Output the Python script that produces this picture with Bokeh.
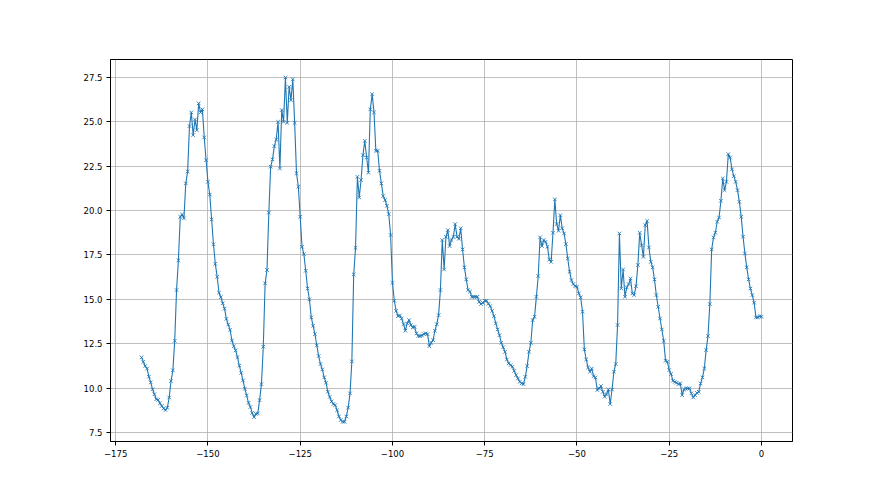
from bokeh.plotting import figure
from bokeh.models import Range1d, FixedTicker
from bokeh.embed import file_html
from bokeh.resources import INLINE
import numpy as np

# Temperature readings, one every half hour, grouped per 24 h block
day1 = [11.73, 11.48, 11.24, 11.10, 10.64, 10.32, 9.93, 9.65,
        9.37, 9.33, 9.14, 8.99, 8.85, 8.76, 8.89, 9.47,
        10.40, 11.00, 12.66, 15.52, 17.20, 19.65, 19.78, 19.56,
        21.53, 22.20, 24.76, 25.53, 24.25, 25.13, 24.53, 26.04,
        25.53, 25.70, 24.12, 22.84, 21.62, 20.90, 19.50, 18.10,
        17.00, 16.27, 15.37, 15.12, 14.78, 14.47, 13.90, 13.58]
day2 = [13.28, 12.68, 12.36, 12.12, 11.74, 11.27, 10.86, 10.43,
        9.96, 9.58, 9.17, 8.93, 8.60, 8.36, 8.55, 8.57,
        9.32, 10.22, 12.33, 15.90, 16.65, 19.88, 22.47, 22.88,
        23.63, 24.00, 25.00, 22.37, 25.66, 25.00, 27.50, 24.94,
        26.97, 26.22, 27.39, 24.94, 22.10, 21.34, 19.65, 17.96,
        17.55, 16.61, 15.61, 15.00, 13.98, 13.51, 13.04, 12.40]
day3 = [11.80, 11.35, 11.05, 10.60, 10.30, 9.79, 9.50, 9.25,
        9.10, 9.04, 8.75, 8.40, 8.20, 8.10, 8.10, 8.40,
        8.90, 9.70, 11.50, 16.40, 17.90, 21.90, 20.74, 21.72,
        23.12, 23.93, 22.99, 22.13, 25.70, 26.56, 25.53, 23.37,
        23.37, 22.24, 21.53, 20.81, 20.59, 20.27, 19.80, 18.62,
        15.93, 14.92, 14.35, 14.05, 14.09, 13.92, 13.60, 13.23]
day4 = [13.64, 13.83, 13.55, 13.42, 13.45, 13.08, 12.93, 12.93,
        12.96, 13.04, 13.08, 13.04, 12.36, 12.55, 12.70, 13.23,
        13.60, 14.11, 15.52, 18.34, 16.68, 18.52, 18.90, 18.00,
        18.34, 18.52, 19.24, 18.52, 18.41, 19.00, 17.81, 16.80,
        16.12, 15.52, 15.43, 15.14, 15.14, 15.14, 15.14, 14.86,
        14.73, 14.80, 14.92, 14.92, 14.75, 14.62, 14.35, 14.05]
day5 = [13.64, 13.30, 12.98, 12.55, 12.30, 12.04, 11.61, 11.39,
        11.29, 11.20, 10.97, 10.73, 10.54, 10.35, 10.26, 10.22,
        10.63, 11.24, 12.04, 12.55, 13.83, 14.02, 15.14, 16.31,
        18.49, 18.00, 18.34, 18.24, 17.96, 17.24, 17.11, 18.75,
        20.63, 19.24, 18.86, 19.74, 19.00, 18.71, 18.11, 17.30,
        16.55, 16.08, 15.86, 15.74, 15.71, 15.33, 15.11, 14.30]
day6 = [12.18, 11.61, 11.16, 10.92, 11.10, 10.67, 10.60, 9.89,
        9.98, 10.11, 9.79, 9.51, 9.66, 9.92, 9.10, 9.92,
        10.92, 11.35, 13.55, 18.71, 15.61, 16.68, 15.14, 15.67,
        15.86, 16.18, 15.33, 15.24, 15.74, 16.93, 18.75, 18.05,
        17.39, 19.18, 19.42, 17.92, 17.11, 16.80, 16.12, 15.24,
        14.58, 13.92, 13.30, 12.66, 11.54, 11.48, 11.01, 10.79]
day7 = [10.41, 10.35, 10.30, 10.22, 10.26, 9.60, 9.92, 9.98,
        9.98, 9.98, 9.70, 9.47, 9.60, 9.73, 9.79, 10.26,
        10.60, 11.10, 12.14, 12.93, 14.73, 17.81, 18.49, 18.75,
        19.37, 19.61, 20.55, 21.81, 21.15, 21.62, 23.18, 22.99,
        22.32, 21.94, 21.62, 21.15, 20.49, 19.65, 18.53, 17.58,
        16.80, 16.12, 15.61, 15.24, 14.81, 13.98, 13.98, 14.05, 14.02]

temperature = day1 + day2 + day3 + day4 + day5 + day6 + day7
hours = list(-168 + 0.5 * np.arange(len(temperature)))

x_ticks = [-175, -150, -125, -100, -75, -50, -25, 0]
x_tick_labels = ["\u2212175", "\u2212150", "\u2212125", "\u2212100",
                 "\u221275", "\u221250", "\u221225", "0"]
y_ticks = [7.5, 10.0, 12.5, 15.0, 17.5, 20.0, 22.5, 25.0, 27.5]
y_tick_labels = ["7.5", "10.0", "12.5", "15.0", "17.5", "20.0", "22.5", "25.0", "27.5"]

p = figure(width=864, height=479, output_backend="svg", toolbar_location=None,
           x_range=Range1d(-176.4, 8.4), y_range=Range1d(6.99, 28.51),
           min_border_left=110, min_border_right=72,
           min_border_top=59, min_border_bottom=38)

p.background_fill_color = "white"
p.border_fill_color = "white"
p.outline_line_color = "black"
p.outline_line_width = 1

p.line(hours, temperature, line_color="#1f77b4", line_width=1.1)
p.scatter(hours, temperature, marker="x", size=5, line_color="#1f77b4",
          line_width=1, line_alpha=0.85)

for ax in (p.xaxis[0], p.yaxis[0]):
    ax.axis_line_color = "black"
    ax.axis_line_width = 1
    ax.major_tick_line_color = "black"
    ax.major_tick_in = 0
    ax.major_tick_out = 4
    ax.minor_tick_line_color = None
    ax.major_label_text_font = "DejaVu Sans"
    ax.major_label_text_font_size = "8.5px"
    ax.major_label_text_color = "black"
    ax.major_label_standoff = 4

p.xaxis.ticker = FixedTicker(ticks=x_ticks)
p.xaxis.major_label_overrides = {t: l for t, l in zip(x_ticks, x_tick_labels)}
p.yaxis.ticker = FixedTicker(ticks=y_ticks)
p.yaxis.major_label_overrides = {t: l for t, l in zip(y_ticks, y_tick_labels)}

p.xgrid.ticker = FixedTicker(ticks=x_ticks)
p.ygrid.ticker = FixedTicker(ticks=y_ticks)
p.grid.grid_line_color = "#b0b0b0"
p.grid.grid_line_width = 0.8

open("out.html", "w").write(file_html(p, INLINE))
